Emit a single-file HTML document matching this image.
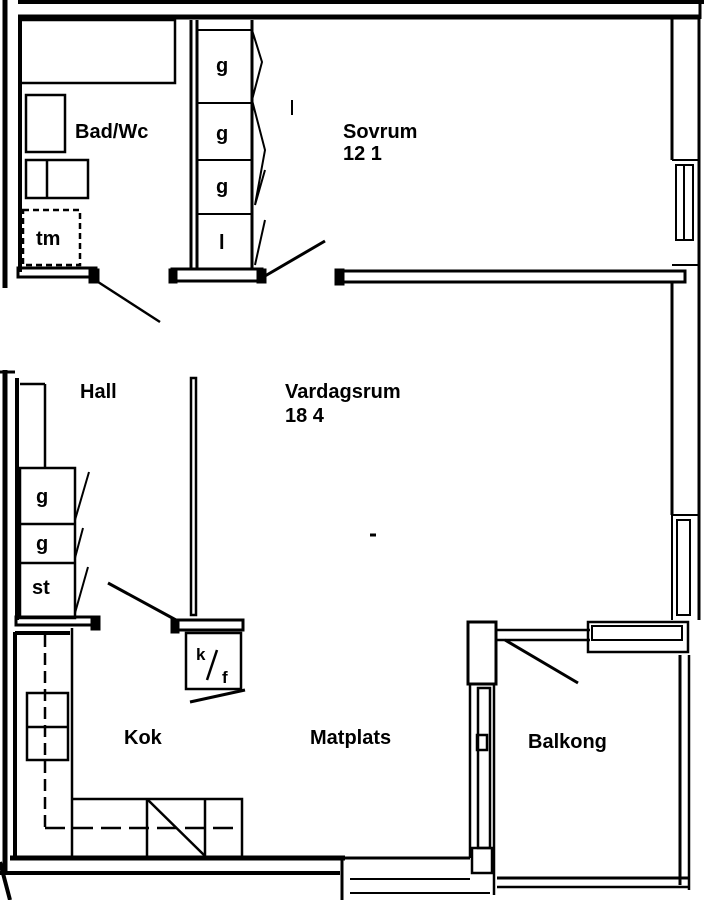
<!DOCTYPE html>
<html><head><meta charset="utf-8"><style>
html,body{margin:0;padding:0;background:#fff;}
svg{display:block}
text{font-family:"Liberation Sans",sans-serif;font-size:20px;font-weight:bold;fill:#000}
</style></head><body>
<svg width="704" height="900" viewBox="0 0 704 900" xmlns="http://www.w3.org/2000/svg">
<g fill="none" stroke="#000" stroke-width="3">
<line x1="18" y1="2" x2="704" y2="2" stroke-width="4"/>
<line x1="18" y1="17" x2="700" y2="17" stroke-width="5"/>
<line x1="700" y1="0" x2="700" y2="19"/>
<line x1="5" y1="0" x2="5" y2="288" stroke-width="5"/>
<line x1="20" y1="17" x2="20" y2="272" stroke-width="4"/>
<rect x="18" y="268" width="78" height="9" stroke-width="3"/>
<rect x="90" y="270" width="8" height="12" fill="#000"/>
<polyline points="22,20 175,20 175,83 22,83" stroke-width="2.5"/>
<rect x="26" y="95" width="39" height="57" stroke-width="2.5"/>
<rect x="26" y="160" width="62" height="38" stroke-width="2.5"/>
<line x1="47" y1="160" x2="47" y2="198" stroke-width="2.5"/>
<rect x="23" y="210" width="57" height="55" stroke-dasharray="6,4" stroke-width="2.5"/>
<line x1="95" y1="280" x2="160" y2="322" stroke-width="2.5"/>
<line x1="191" y1="20" x2="191" y2="270" stroke-width="3"/>
<line x1="197" y1="20" x2="197" y2="270" stroke-width="3"/>
<line x1="252" y1="20" x2="252" y2="270" stroke-width="3"/>
<line x1="197" y1="30" x2="252" y2="30" stroke-width="2"/>
<line x1="197" y1="103" x2="252" y2="103" stroke-width="2"/>
<line x1="197" y1="160" x2="252" y2="160" stroke-width="2"/>
<line x1="197" y1="214" x2="252" y2="214" stroke-width="2"/>
<polyline points="252,30 262,62 252,100 265,150 255,205 265,170" stroke-width="2"/>
<line x1="255" y1="265" x2="265" y2="220" stroke-width="2"/>
<rect x="172" y="269" width="90" height="12" stroke-width="3"/>
<rect x="170" y="270" width="6" height="12" fill="#000"/>
<rect x="258" y="270" width="7" height="12" fill="#000"/>
<line x1="265" y1="276" x2="325" y2="241" stroke-width="3"/>
<line x1="292" y1="100" x2="292" y2="115" stroke-width="2"/>
<rect x="340" y="271" width="345" height="11" stroke-width="3"/>
<rect x="336" y="270" width="7" height="14" fill="#000"/>
<line x1="672" y1="19" x2="672" y2="160" stroke-width="3"/>
<line x1="699" y1="19" x2="699" y2="620" stroke-width="3"/>
<line x1="672" y1="160" x2="699" y2="160" stroke-width="2"/>
<rect x="676" y="165" width="17" height="75" stroke-width="2"/>
<line x1="684" y1="165" x2="684" y2="240" stroke-width="2"/>
<line x1="672" y1="265" x2="699" y2="265" stroke-width="2"/>
<line x1="672" y1="282" x2="672" y2="515" stroke-width="3"/>
<line x1="672" y1="515" x2="699" y2="515" stroke-width="2"/>
<rect x="677" y="520" width="13" height="95" stroke-width="2"/>
<line x1="672" y1="515" x2="672" y2="620" stroke-width="2"/>
<line x1="5" y1="370" x2="5" y2="875" stroke-width="5"/>
<line x1="17" y1="378" x2="17" y2="620" stroke-width="4"/>
<line x1="0" y1="372" x2="15" y2="372" stroke-width="3"/>
<line x1="20" y1="384" x2="45" y2="384" stroke-width="2.5"/>
<line x1="45" y1="384" x2="45" y2="468" stroke-width="2.5"/>
<rect x="20" y="468" width="55" height="150" stroke-width="2.5"/>
<line x1="20" y1="524" x2="75" y2="524" stroke-width="2.5"/>
<line x1="20" y1="563" x2="75" y2="563" stroke-width="2.5"/>
<line x1="75" y1="520" x2="89" y2="472" stroke-width="2"/>
<line x1="75" y1="558" x2="83" y2="528" stroke-width="2"/>
<line x1="75" y1="613" x2="88" y2="567" stroke-width="2"/>
<rect x="16" y="617" width="82" height="8" stroke-width="3"/>
<rect x="92" y="617" width="7" height="12" fill="#000"/>
<rect x="191" y="378" width="5" height="237" stroke-width="2.5"/>
<line x1="108" y1="583" x2="176" y2="620" stroke-width="3"/>
<rect x="176" y="620" width="67" height="10" stroke-width="3"/>
<rect x="172" y="620" width="6" height="12" fill="#000"/>
<rect x="186" y="633" width="55" height="56" stroke-width="2.5"/>
<line x1="190" y1="702" x2="245" y2="690" stroke-width="3"/>
<line x1="15" y1="632" x2="15" y2="858" stroke-width="4"/>
<line x1="15" y1="633" x2="70" y2="633" stroke-width="4"/>
<line x1="72" y1="628" x2="72" y2="858" stroke-width="2.5"/>
<rect x="27" y="693" width="41" height="67" stroke-width="2.5"/>
<line x1="27" y1="727" x2="68" y2="727" stroke-width="2.5"/>
<line x1="45" y1="635" x2="45" y2="828" stroke-dasharray="12,6" stroke-width="2.5"/>
<line x1="45" y1="828" x2="242" y2="828" stroke-dasharray="20,8" stroke-width="2.5"/>
<polyline points="72,799 242,799 242,858" stroke-width="2.5"/>
<line x1="147" y1="799" x2="147" y2="858" stroke-width="2.5"/>
<line x1="205" y1="799" x2="205" y2="858" stroke-width="2.5"/>
<line x1="148" y1="800" x2="205" y2="856" stroke-width="2.5"/>
<line x1="10" y1="858" x2="345" y2="858" stroke-width="5"/>
<line x1="0" y1="873" x2="340" y2="873" stroke-width="4"/>
<line x1="342" y1="858" x2="342" y2="900" stroke-width="3"/>
<line x1="345" y1="858" x2="470" y2="858" stroke-width="3"/>
<line x1="350" y1="879" x2="470" y2="879" stroke-width="2"/>
<line x1="350" y1="893" x2="490" y2="893" stroke-width="2"/>
<line x1="0" y1="862" x2="10" y2="900" stroke-width="4"/>
<rect x="468" y="622" width="28" height="62" stroke-width="3"/>
<rect x="478" y="688" width="12" height="160" stroke-width="2.5"/>
<line x1="470" y1="684" x2="470" y2="858" stroke-width="2.5"/>
<line x1="494" y1="684" x2="494" y2="895" stroke-width="2.5"/>
<rect x="472" y="848" width="20" height="25" stroke-width="2.5"/>
<rect x="477" y="735" width="10" height="15" stroke-width="2.5"/>
<line x1="496" y1="630" x2="590" y2="630" stroke-width="2.5"/>
<line x1="496" y1="640" x2="590" y2="640" stroke-width="2.5"/>
<rect x="588" y="622" width="100" height="30" stroke-width="2.5"/>
<rect x="592" y="626" width="90" height="14" stroke-width="2"/>
<line x1="505" y1="640" x2="578" y2="683" stroke-width="3"/>
<line x1="680" y1="655" x2="680" y2="885" stroke-width="3"/>
<line x1="689" y1="655" x2="689" y2="890" stroke-width="2.5"/>
<line x1="497" y1="878" x2="690" y2="878" stroke-width="3"/>
<line x1="497" y1="887" x2="690" y2="887" stroke-width="2.5"/>
<line x1="370" y1="535" x2="376" y2="535" stroke-width="3"/>
</g>
<g>
<text x="75" y="138">Bad/Wc</text>
<text x="216" y="72">g</text>
<text x="216" y="140">g</text>
<text x="216" y="193">g</text>
<text x="219" y="249">l</text>
<text x="36" y="245">tm</text>
<text x="343" y="138">Sovrum</text>
<text x="343" y="160">12 1</text>
<text x="80" y="398">Hall</text>
<text x="285" y="398">Vardagsrum</text>
<text x="285" y="422">18 4</text>
<text x="36" y="503">g</text>
<text x="36" y="550">g</text>
<text x="32" y="594">st</text>
<text x="196" y="660" style="font-size:17px">k</text>
<text x="222" y="683" style="font-size:17px">f</text>
<line x1="207" y1="680" x2="217" y2="650" stroke="#000" stroke-width="2.5"/>
<text x="124" y="744">Kok</text>
<text x="310" y="744">Matplats</text>
<text x="528" y="748">Balkong</text>
</g>
</svg>
</body></html>
